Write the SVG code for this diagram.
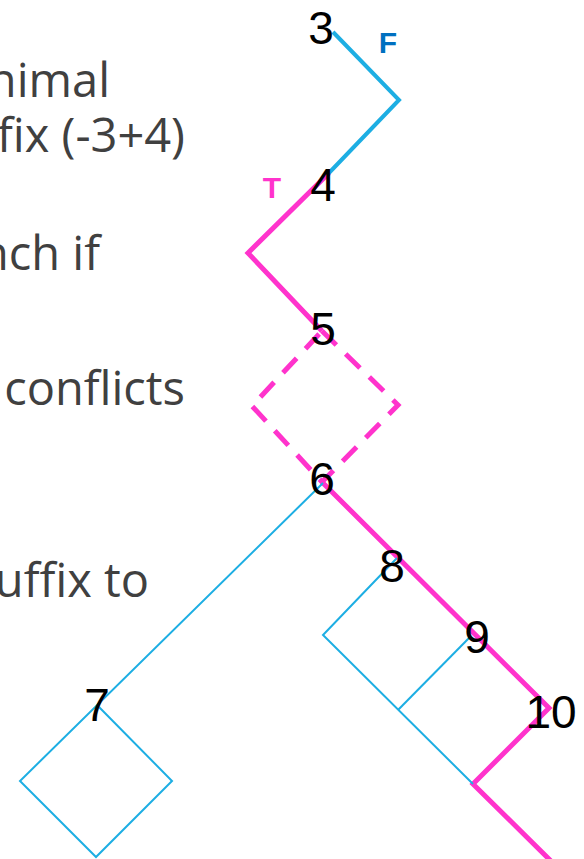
<svg xmlns="http://www.w3.org/2000/svg" width="584" height="859" viewBox="0 0 584 859">
  <style>
    .note { font-family: "Open Sans", "Liberation Sans", sans-serif; font-size: 47px; fill: #404040; text-anchor: end; }
    .num { font-family: "Liberation Sans", Arial, sans-serif; font-size: 46px; fill: #000000; text-anchor: middle; }
    .flag { font-family: "Liberation Sans", Arial, sans-serif; font-size: 30px; font-weight: bold; text-anchor: middle; }
    .edge { fill: none; stroke-linejoin: miter; stroke-linecap: butt; }
    .blue-thick { stroke: #1DAEE3; stroke-width: 4; }
    .blue-thin { stroke: #1DAEE3; stroke-width: 2; }
    .pink { stroke: #FF33CC; stroke-width: 5; }
    .pink-dash { stroke: #FF33CC; stroke-width: 5; stroke-dasharray: 20 13; }
  </style>
  <rect width="584" height="859" fill="#ffffff"/>

  <!-- side notes (clipped at the left edge) -->
  <g id="notes">
    <text class="note" x="110" y="97">nimal</text>
    <text class="note" x="185" y="152">fix (-3+4)</text>
    <text class="note" x="100" y="270">nch if</text>
    <text class="note" x="185" y="405">conflicts</text>
    <text class="note" x="149" y="597">uffix to</text>
  </g>

  <!-- connectors -->
  <g id="connectors">
    <path class="edge blue-thick" d="M333,32 L399,100 L327,175"/>
    <path class="edge pink" d="M329,173 L248,253 L322,331"/>
    <path class="edge pink-dash" d="M322,331 L398,405 L322,482 L252,406 Z"/>
    <path class="edge pink" d="M322,482 L549,708 L473,784 L556,866"/>
    <path class="edge blue-thin" d="M323,483 L20,781 L96,857 L172,781 L98,706"/>
    <path class="edge blue-thin" d="M397,558 L323,635 L473,784"/>
    <path class="edge blue-thin" d="M470,637 L398,710"/>
  </g>

  <!-- branch flags -->
  <g id="flag-F"><text class="flag" x="388" y="53" fill="#0070C0">F</text></g>
  <g id="flag-T"><text class="flag" x="272" y="198" fill="#FF33CC">T</text></g>

  <!-- nodes -->
  <g id="node-3"><text class="num" x="321" y="44">3</text></g>
  <g id="node-4"><text class="num" x="323" y="201">4</text></g>
  <g id="node-5"><text class="num" x="323" y="345">5</text></g>
  <g id="node-6"><text class="num" x="322" y="495">6</text></g>
  <g id="node-7"><text class="num" x="97" y="721">7</text></g>
  <g id="node-8"><text class="num" x="392" y="582">8</text></g>
  <g id="node-9"><text class="num" x="477" y="653">9</text></g>
  <g id="node-10"><text class="num" x="551" y="728">10</text></g>
</svg>
